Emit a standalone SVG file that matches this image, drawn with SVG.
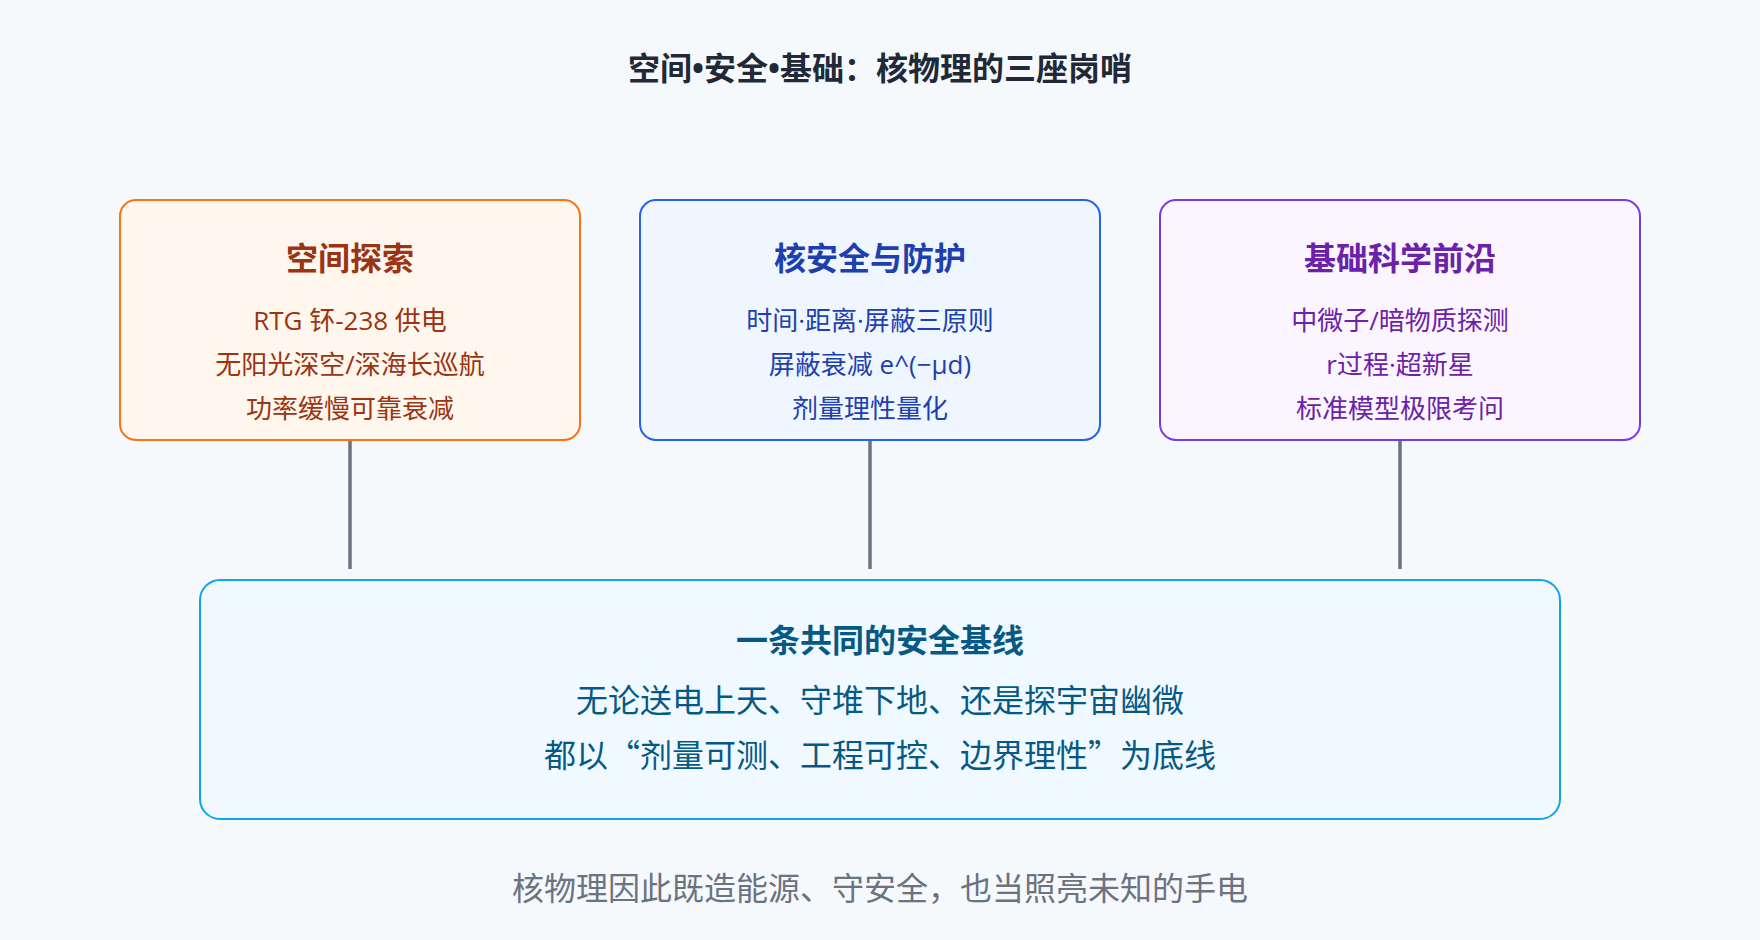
<svg xmlns="http://www.w3.org/2000/svg" width="1760" height="940" viewBox="0 0 1760 940">
  <style>
    text { font-family: "Open Sans", "Noto Sans CJK SC", sans-serif; text-anchor: middle; }
    .cjk { font-family: "Noto Sans CJK SC", sans-serif; }
    .title { font-size: 32px; font-weight: 700; fill: #1f2937; }
    .h { font-size: 32px; font-weight: 700; }
    .b { font-size: 26px; }
    .bb { font-size: 32px; }
    .box { stroke-width: 2; }
    .conn { stroke: #6b7280; stroke-width: 3.5; fill: none; }
    .foot { font-size: 32px; fill: #6b7280; }
  </style>
  <rect x="0" y="0" width="1760" height="940" fill="#f5f9fc"/>
  <text class="title" x="880" y="80">空间•安全•基础：核物理的三座岗哨</text>

  <g id="connectors">
    <line class="conn" x1="350" y1="441" x2="350" y2="569"/>
    <line class="conn" x1="870" y1="441" x2="870" y2="569"/>
    <line class="conn" x1="1400" y1="441" x2="1400" y2="569"/>
  </g>

  <g id="node-space">
    <rect class="box" x="120" y="200" width="460" height="240" rx="16" fill="#fff7ed" stroke="#f97316"/>
    <text class="h" x="350" y="270" fill="#9a3412">空间探索</text>
    <text class="b" x="350" y="330" fill="#9a3412">RTG 钚-238 供电</text>
    <text class="b" x="350" y="374" fill="#9a3412">无阳光深空/深海长巡航</text>
    <text class="b" x="350" y="418" fill="#9a3412">功率缓慢可靠衰减</text>
  </g>

  <g id="node-safety">
    <rect class="box" x="640" y="200" width="460" height="240" rx="16" fill="#eff6ff" stroke="#2563eb"/>
    <text class="h" x="870" y="270" fill="#1e40af">核安全与防护</text>
    <text class="b" x="870" y="330" fill="#1e40af">时间·距离·屏蔽三原则</text>
    <text class="b" x="870" y="374" fill="#1e40af">屏蔽衰减 e^(−μd)</text>
    <text class="b" x="870" y="418" fill="#1e40af">剂量理性量化</text>
  </g>

  <g id="node-science">
    <rect class="box" x="1160" y="200" width="480" height="240" rx="16" fill="#faf5ff" stroke="#7c3aed"/>
    <text class="h" x="1400" y="270" fill="#6b21a8">基础科学前沿</text>
    <text class="b" x="1400" y="330" fill="#6b21a8">中微子/暗物质探测</text>
    <text class="b" x="1400" y="374" fill="#6b21a8">r过程·超新星</text>
    <text class="b" x="1400" y="418" fill="#6b21a8">标准模型极限考问</text>
  </g>

  <g id="node-baseline">
    <rect class="box" x="200" y="580" width="1360" height="239" rx="20" fill="#f0f9ff" stroke="#0ea5e9"/>
    <text class="h" x="880" y="652" fill="#075985">一条共同的安全基线</text>
    <text class="bb" x="880" y="712" fill="#075985">无论送电上天、守堆下地、还是探宇宙幽微</text>
    <text class="bb cjk" x="880" y="767" fill="#075985">都以“剂量可测、工程可控、边界理性”为底线</text>
  </g>

  <text class="foot" x="880" y="900">核物理因此既造能源、守安全，也当照亮未知的手电</text>
</svg>
